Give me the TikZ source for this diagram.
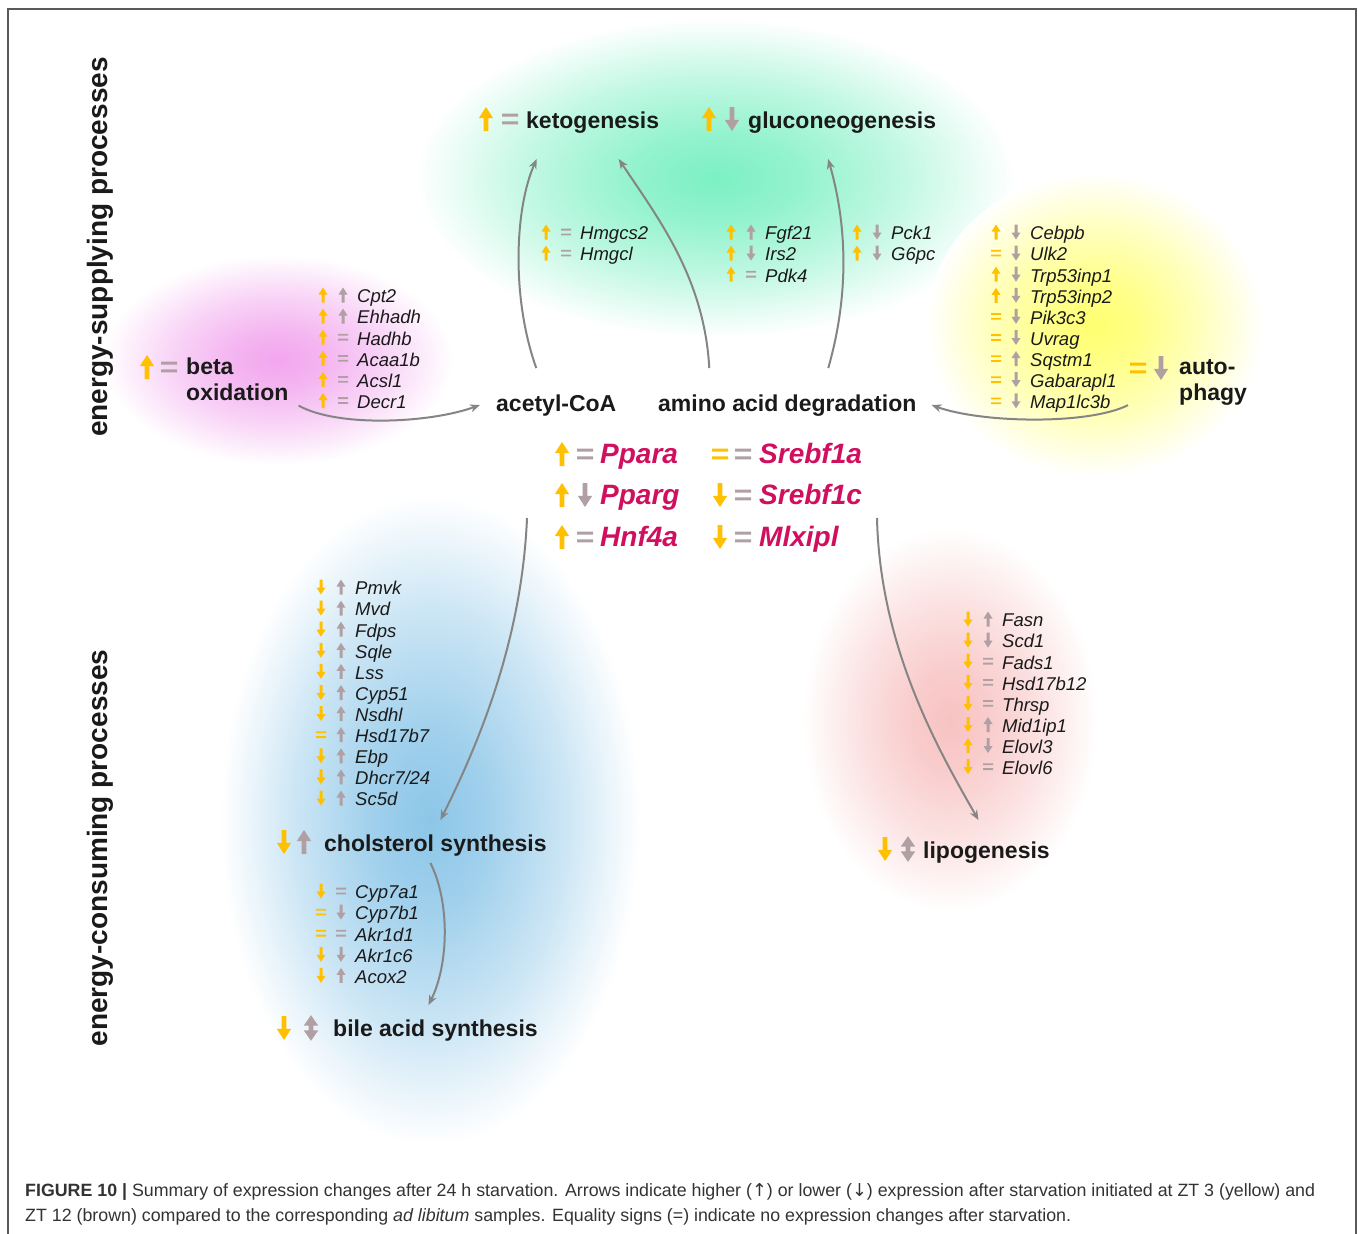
\documentclass[tikz,border=0pt]{standalone}
\usepackage{fontspec}
\setmainfont{Liberation Sans}
\newfontfamily\symfont{DejaVu Sans}
\usetikzlibrary{arrows.meta}

\definecolor{ylw}{HTML}{FFC000}
\definecolor{brn}{HTML}{B09FA3}
\definecolor{cgray}{HTML}{858585}
\definecolor{tfc}{HTML}{D0105E}
\definecolor{txt}{HTML}{1A1A1A}
\definecolor{capc}{HTML}{333333}
\definecolor{bketo}{HTML}{7CF0C4}
\definecolor{bbeta}{HTML}{F2A6EE}
\definecolor{bauto}{HTML}{FFFF70}
\definecolor{bchol}{HTML}{8CC6E8}
\definecolor{blipo}{HTML}{F8C2C2}
\colorlet{blobc}{white}
\pgfdeclareradialshading[blobc]{blob}{\pgfpoint{0bp}{0bp}}{color(0bp)=(blobc); color(7bp)=(blobc!82!white); color(16bp)=(blobc!45!white); color(25bp)=(white); color(50bp)=(white)}

\tikzset{
  pics/up/.style={code={\fill (-1.5,7.5) -- (-1.5,-0.5) -- (-4.5,-0.5) -- (0,-7.5) -- (4.5,-0.5) -- (1.5,-0.5) -- (1.5,7.5) -- cycle;}},
  pics/dn/.style={code={\fill (-1.5,-7.5) -- (-1.5,0.5) -- (-4.5,0.5) -- (0,7.5) -- (4.5,0.5) -- (1.5,0.5) -- (1.5,-7.5) -- cycle;}},
  pics/eq/.style={code={\fill (-5,-3.3) rectangle (5,-1.5) (-5,1.5) rectangle (5,3.3);}},
  pics/ud/.style={code={\fill (0,-8) -- (4.5,-1.5) -- (1.5,-1.5) -- (1.5,1.5) -- (4.5,1.5) -- (0,8) -- (-4.5,1.5) -- (-1.5,1.5) -- (-1.5,-1.5) -- (-4.5,-1.5) -- cycle;}},
  gene/.style={anchor=base west, inner sep=0pt, yshift=-7.8pt, text=txt, font=\fontsize{18.5}{20}\selectfont\itshape},
  plabel/.style={anchor=west, inner sep=1pt, yshift=-3pt, text=txt, align=left, font=\fontsize{23}{26}\selectfont\bfseries},
  tf/.style={anchor=base west, inner sep=0pt, yshift=-10pt, text=tfc, font=\fontsize{28}{30}\selectfont\bfseries\itshape},
  side/.style={rotate=90, inner sep=0pt, text=txt, font=\fontsize{28}{30}\selectfont\bfseries},
  capt/.style={anchor=west, inner sep=0pt, yshift=-2pt, text=capc, font=\fontsize{17.8}{20}\selectfont},
  conn/.style={draw=cgray, line width=2pt, -{Stealth[length=10pt,width=8pt]}},
  big/.style={scale=1.6}
}

% one row per gene: ZT3 mark, ZT12 mark, name
\newcommand\genelist[4]{%
  \foreach \a/\b/\g [count=\i from 0] in {#4} {
    \pic[ylw] at (#2, #3+21.1*\i) {\a};
    \pic[brn] at (#2+20, #3+21.1*\i) {\b};
    \node[gene] (#1\i) at (#2+34, #3+21.1*\i) {\g};
  }}

\begin{document}
\begin{tikzpicture}[x=1pt, y=-1pt]
\useasboundingbox (0,0) rectangle (1358,1234);
\fill[white] (0,0) rectangle (1358,1234);

% coloured process areas
\colorlet{blobc}{bketo}\shade[shading=blob] (715,178) ellipse [x radius=300, y radius=160];
\colorlet{blobc}{bbeta}\shade[shading=blob] (278,360) ellipse [x radius=175, y radius=105];
\colorlet{blobc}{bauto}\shade[shading=blob] (1095,325) ellipse [x radius=168, y radius=152];
\colorlet{blobc}{bchol}\shade[shading=blob] (430,820) ellipse [x radius=210, y radius=325];
\colorlet{blobc}{blipo}\shade[shading=blob] (950,720) ellipse [x radius=148, y radius=192];

% frame
\draw[gray!70!black, line width=1.5pt] (8,1234) -- (8,9) -- (1356,9) -- (1356,1234);

% side labels
\node[side] (supply) at (100,247) {energy-supplying processes};
\node[side] (consume) at (100,848) {energy-consuming processes};

% processes
\pic[ylw,big] at (486,119) {up}; \pic[brn,big] at (510,119) {eq};
\node[plabel] (keto) at (525,120) {ketogenesis};
\pic[ylw,big] at (709,119) {up}; \pic[brn,big] at (732,119) {dn};
\node[plabel] (gluco) at (747,120) {gluconeogenesis};
\pic[ylw,big] at (147,367) {up}; \pic[brn,big] at (169,367) {eq};
\node[plabel] (beta) at (185,376) {beta\\oxidation};
\pic[ylw,big] at (1138,368) {eq}; \pic[brn,big] at (1161,368) {dn};
\node[plabel] (auto) at (1178,379) {auto-\\phagy};
\node[plabel] (acoa) at (495,403) {acetyl-CoA};
\node[plabel] (aad) at (657,403) {amino acid degradation};
\pic[ylw,big] at (284,842) {dn}; \pic[brn,big] at (304,842) {up};
\node[plabel] (chol) at (323,843) {cholsterol synthesis};
\pic[ylw,big] at (284,1028) {dn}; \pic[brn,big] at (311,1028) {ud};
\node[plabel] (bile) at (332,1028) {bile acid synthesis};
\pic[ylw,big] at (885,849) {dn}; \pic[brn,big] at (908,849) {ud};
\node[plabel] (lipo) at (922,850) {lipogenesis};

% transcription factors
\pic[ylw,big] at (562,454) {up}; \pic[brn,big] at (585,454) {eq};
\node[tf] (ppara) at (600,453) {Ppara};
\pic[ylw,big] at (562,495) {up}; \pic[brn,big] at (585,495) {dn};
\node[tf] (pparg) at (600,494) {Pparg};
\pic[ylw,big] at (562,537) {up}; \pic[brn,big] at (585,537) {eq};
\node[tf] (hnf) at (600,536) {Hnf4a};
\pic[ylw,big] at (720,454) {eq}; \pic[brn,big] at (743,454) {eq};
\node[tf] (sra) at (759,453) {Srebf1a};
\pic[ylw,big] at (720,495) {dn}; \pic[brn,big] at (743,495) {eq};
\node[tf] (src) at (759,494) {Srebf1c};
\pic[ylw,big] at (720,537) {dn}; \pic[brn,big] at (743,537) {eq};
\node[tf] (mlx) at (759,536) {Mlxipl};

% gene lists
\genelist{gk}{546}{232}{up/eq/Hmgcs2, up/eq/Hmgcl}
\genelist{gf}{731}{232}{up/up/Fgf21, up/dn/Irs2, up/eq/Pdk4}
\genelist{gp}{857}{232}{up/dn/Pck1, up/dn/G6pc}
\genelist{gb}{323}{295}{up/up/Cpt2, up/up/Ehhadh, up/eq/Hadhb, up/eq/Acaa1b, up/eq/Acsl1, up/eq/Decr1}
\genelist{ga}{996}{232}{up/dn/Cebpb, eq/dn/Ulk2, up/dn/Trp53inp1, up/dn/Trp53inp2, eq/dn/Pik3c3, eq/dn/Uvrag, eq/up/Sqstm1, eq/dn/Gabarapl1, eq/dn/Map1lc3b}
\genelist{gc}{321}{587}{dn/up/Pmvk, dn/up/Mvd, dn/up/Fdps, dn/up/Sqle, dn/up/Lss, dn/up/Cyp51, dn/up/Nsdhl, eq/up/Hsd17b7, dn/up/Ebp, dn/up/{Dhcr7/24}, dn/up/Sc5d}
\genelist{gs}{321}{891}{dn/eq/Cyp7a1, eq/dn/Cyp7b1, eq/eq/Akr1d1, dn/dn/Akr1c6, dn/up/Acox2}
\genelist{gl}{968}{619}{dn/up/Fasn, dn/dn/Scd1, dn/eq/Fads1, dn/eq/Hsd17b12, dn/eq/Thrsp, dn/up/Mid1ip1, up/dn/Elovl3, dn/eq/Elovl6}

% connectors
\coordinate (tfl) at (527,518);
\coordinate (tfr) at (877,518);
\draw[conn] ([shift={(-20,-26)}]acoa.north) .. controls +(-25,-70) and +(-22,50) .. ([shift={(-56,24)}]keto.south);
\draw[conn] ([shift={(-78,-26)}]aad.north) .. controls +(-5,-90) and +(40,60) .. ([shift={(26,24)}]keto.south);
\draw[conn] ([shift={(41,-26)}]aad.north) .. controls +(20,-70) and +(20,70) .. ([shift={(-14,24)}]gluco.south);
\draw[conn] ([shift={(9,4)}]beta.south east) .. controls +(40,22) and +(-50,18) .. ([shift={(-15,-1)}]acoa.west);
\draw[conn] ([shift={(-50,-1)}]auto.south west) .. controls +(-40,20) and +(50,18) .. ([shift={(14,-1)}]aad.east);
\draw[conn] (tfl) .. controls +(-5,120) and +(40,-80) .. ([shift={(5,-14)}]chol.north);
\draw[conn] (tfr) .. controls +(3,130) and +(-40,-70) .. ([shift={(-8,-21)}]lipo.north);
\draw[conn] ([shift={(-5,5)}]chol.south) .. controls +(20,40) and +(20,-40) .. ([shift={(-7,-14)}]bile.north);

% caption
\node[capt] (cap1) at (25,1190) {\textbf{FIGURE 10 |} Summary of expression changes after 24 h starvation. Arrows indicate higher ({\symfont ↑}) or lower ({\symfont ↓}) expression after starvation initiated at ZT 3 (yellow) and};
\node[capt] (cap2) at (25,1215) {ZT 12 (brown) compared to the corresponding \textit{ad libitum} samples. Equality signs (=) indicate no expression changes after starvation.};
\end{tikzpicture}
\end{document}
